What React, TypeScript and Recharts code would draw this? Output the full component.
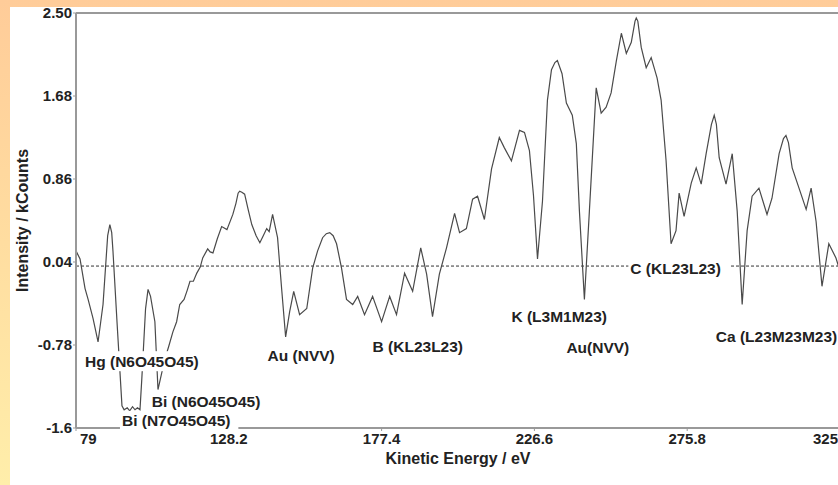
import { LineChart, Line, XAxis, YAxis, ReferenceLine, ReferenceDot } from "recharts";

// kinetic energy (eV) and intensity (kCounts)
const energy = [
  79.0, 80.3, 81.9, 82.9, 84.5, 86.1, 87.7, 89.2, 89.9, 90.5, 90.9, 92.2, 93.8, 94.5, 95.5, 96.3, 97.2, 98.0, 98.8, 99.6,
  100.2, 101.4, 102.2, 103.0, 104.4, 105.4, 107.6, 108.8, 110.2, 111.4, 112.4, 113.8, 114.8, 115.7, 116.8, 117.9, 119.0, 119.8,
  121.4, 122.2, 123.1, 124.5, 125.9, 127.6, 129.5, 130.5, 131.2, 131.7, 132.4, 133.3, 134.5, 135.6, 137.0, 138.2, 139.3, 140.4,
  141.2, 142.3, 143.9, 145.2, 146.5, 147.8, 149.1, 151.0, 153.3, 155.2, 156.8, 158.4, 159.6, 160.7, 161.8, 162.9, 164.5, 166.1,
  168.1, 169.7, 171.9, 174.5, 177.4, 180.0, 182.2, 184.8, 187.4, 190.0, 191.9, 193.8, 196.0, 198.3, 200.9, 202.5,
  204.7, 206.7, 208.3, 210.5, 212.8, 215.3, 216.9, 219.2, 221.8, 223.4, 225.0, 226.3, 227.6, 229.2, 230.8, 232.1,
  233.2, 234.0, 235.5, 236.9, 238.8, 240.1, 241.1, 242.7, 244.3, 246.5, 248.1, 249.7, 251.3, 253.0, 254.6, 256.2, 257.8,
  259.0, 259.4, 259.9, 261.0, 262.6, 264.2, 266.1, 267.4, 269.0, 270.6, 272.2, 273.2, 274.8, 277.1, 278.7, 280.3, 281.9, 283.6, 284.5,
  285.2, 286.1, 288.3, 290.3, 291.9, 293.5, 295.1, 296.7, 298.9, 301.5, 303.1, 305.4, 306.8, 307.6, 308.4, 309.6, 311.8, 314.1, 315.7,
  317.3, 319.2, 321.4, 323.7, 325.0,
];
const intensity = [
  0.15, 0.07, -0.22, -0.33, -0.52, -0.75, -0.38, 0.3, 0.41, 0.33, 0.15, -0.55, -1.38, -1.42, -1.4, -1.43, -1.39, -1.42, -1.4, -1.42,
  -1.11, -0.42, -0.23, -0.3, -0.55, -1.22, -0.92, -0.8, -0.65, -0.55, -0.38, -0.33, -0.24, -0.15, -0.15, -0.07, -0.01, 0.08,
  0.17, 0.14, 0.13, 0.27, 0.39, 0.36, 0.51, 0.62, 0.72, 0.74, 0.73, 0.71, 0.55, 0.41, 0.3, 0.23, 0.3, 0.37,
  0.34, 0.51, 0.28, -0.22, -0.7, -0.45, -0.25, -0.48, -0.42, -0.02, 0.15, 0.28, 0.32, 0.33, 0.3, 0.22, -0.02, -0.33,
  -0.38, -0.3, -0.48, -0.3, -0.55, -0.3, -0.48, -0.07, -0.25, 0.18, -0.08, -0.5, -0.08, 0.18, 0.52, 0.33,
  0.37, 0.66, 0.69, 0.46, 0.96, 1.27, 1.17, 1.04, 1.34, 1.32, 1.14, 0.7, 0.07, 0.64, 1.64, 1.94,
  2.01, 2.03, 1.9, 1.61, 1.49, 1.21, 0.54, -0.33, 0.54, 1.76, 1.51, 1.57, 1.71, 2.03, 2.3, 2.1, 2.21,
  2.42, 2.45, 2.42, 2.16, 1.96, 2.06, 1.86, 1.64, 1.04, 0.22, 0.35, 0.72, 0.49, 0.82, 0.97, 0.81, 1.11, 1.4, 1.49,
  1.4, 1.07, 0.81, 1.11, 0.54, -0.38, 0.35, 0.69, 0.77, 0.51, 0.67, 1.11, 1.26, 1.29, 1.22, 0.97, 0.77, 0.56, 0.77,
  0.44, -0.2, 0.22, 0.08, -0.05,
];

const xTicks = [79, 128.2, 177.4, 226.6, 275.8, 325];
const yTicks = [-1.6, -0.78, 0.04, 0.86, 1.68, 2.5];
const yTickLabels = ["-1.6", "-0.78", "0.04", "0.86", "1.68", "2.50"];

// peak assignments, anchored where the text starts
const peakNames = [
  "Hg (N6O45O45)",
  "Bi (N6O45O45)",
  "Bi (N7O45O45)",
  "Au (NVV)",
  "B (KL23L23)",
  "K (L3M1M23)",
  "Au(NVV)",
  "C (KL23L23)",
  "Ca (L23M23M23)",
];
const peakEnergy = [81.9, 103.4, 93.8, 140.7, 174.5, 219.2, 236.9, 257.5, 285.0];
const peakIntensity = [-0.94, -1.34, -1.53, -0.88, -0.79, -0.5, -0.8, -0.02, -0.7];

const data = energy.map((e, i) => ({ energy: e, intensity: intensity[i] }));

const FONT = "'Liberation Sans', Arial, sans-serif";

const XTick = (props: any) => {
  const { x, y, payload } = props;
  let anchor = "middle";
  let dx = 0;
  if (payload.value === xTicks[0]) {
    anchor = "start";
    dx = 4;
  } else if (payload.value === xTicks[xTicks.length - 1]) {
    anchor = "end";
    dx = -2;
  }
  return (
    <text x={x + dx} y={y} dy="0.71em" textAnchor={anchor} fontSize={15} fontWeight="bold" fill="#222" fontFamily={FONT}>
      {String(payload.value)}
    </text>
  );
};

const PeakLabel = ({ cx, cy, text }: { cx: number; cy: number; text: string }) => {
  const w = text.length * 8.8;
  return (
    <g>
      <rect x={cx - 2} y={cy - 10} width={w + 4} height={20} fill="#fff" />
      <text x={cx} y={cy} dy="0.36em" fontSize={15.5} fontWeight="bold" fill="#222" fontFamily={FONT}>
        {text}
      </text>
    </g>
  );
};

export default function App() {
  return (
    <div
      style={{
        position: "relative",
        width: 838,
        height: 485,
        overflow: "hidden",
        background: "linear-gradient(180deg, #FFCC99 0%, #FFDDA0 50%, #FFEEAA 100%)",
      }}
    >
      <style>{"body{margin:0;overflow:hidden}"}</style>
      <div
        style={{
          position: "absolute",
          left: 10,
          top: 7,
          width: 828,
          height: 478,
          background: "#fff",
          overflow: "hidden",
        }}
      >
        <div style={{ position: "absolute", left: -10, top: -7 }}>
          <LineChart width={860} height={485} data={data} margin={{ top: 13, right: 20, left: 0, bottom: 0 }}>
            <XAxis
              dataKey="energy"
              type="number"
              domain={[79, 325]}
              ticks={xTicks}
              allowDataOverflow
              height={57}
              tick={<XTick />}
              tickSize={3}
              axisLine={{ stroke: "#999", strokeWidth: 2 }}
              tickLine={{ stroke: "#999" }}
              label={{
                value: "Kinetic Energy / eV",
                position: "insideBottom",
                offset: 21,
                style: { fontSize: 16, fontWeight: "bold", fill: "#222", fontFamily: FONT },
              }}
            />
            <YAxis
              type="number"
              domain={[-1.6, 2.5]}
              ticks={yTicks}
              allowDataOverflow
              width={76}
              tickSize={3}
              tickMargin={1}
              tickFormatter={(v: number) => yTickLabels[yTicks.indexOf(v)]}
              tick={{ fontSize: 15, fontWeight: "bold", fill: "#222", fontFamily: FONT }}
              axisLine={{ stroke: "#999", strokeWidth: 2 }}
              tickLine={{ stroke: "#999" }}
              label={{
                value: "Intensity / kCounts",
                angle: -90,
                position: "insideLeft",
                offset: 22,
                style: { textAnchor: "middle", fontSize: 16, fontWeight: "bold", fill: "#222", fontFamily: FONT },
              }}
            />
            <ReferenceLine y={2.5} stroke="#999" strokeWidth={2} />
            <ReferenceLine y={0} stroke="#333" strokeDasharray="3 2" strokeWidth={1} />
            <Line
              type="linear"
              dataKey="intensity"
              stroke="#4a4a4a"
              strokeWidth={1.2}
              dot={false}
              isAnimationActive={false}
            />
            {peakNames.map((name, i) => (
              <ReferenceDot
                key={name + i}
                x={peakEnergy[i]}
                y={peakIntensity[i]}
                r={0}
                ifOverflow="visible"
                zIndex={2000}
                shape={(p: any) => <PeakLabel cx={p.cx} cy={p.cy} text={name} />}
              />
            ))}
          </LineChart>
        </div>
      </div>
    </div>
  );
}
